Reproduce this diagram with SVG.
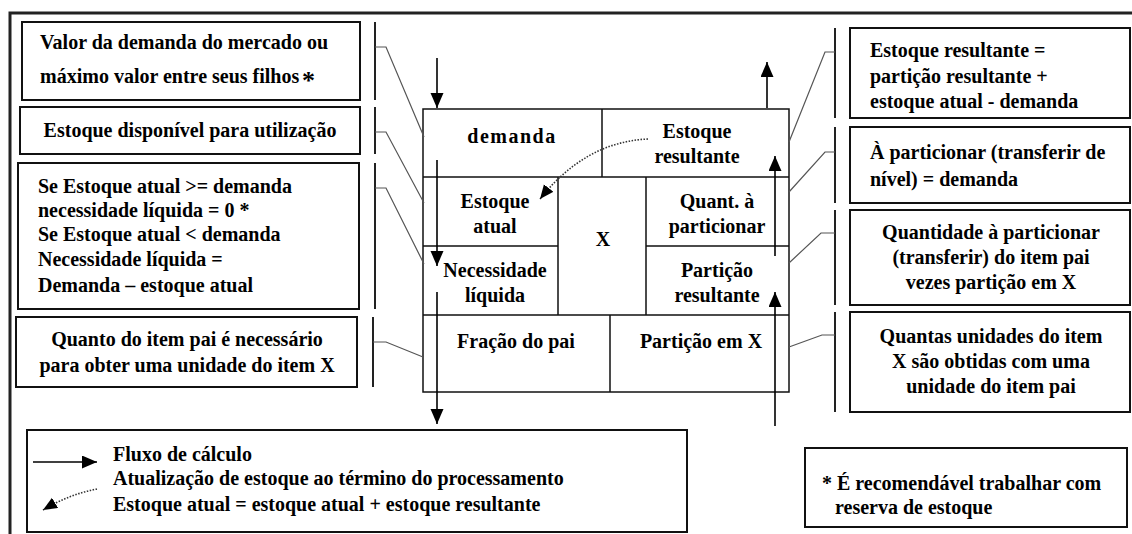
<svg xmlns="http://www.w3.org/2000/svg" width="1132" height="534" viewBox="0 0 1132 534">
<style>
.t{font-family:"Liberation Serif","Times New Roman",serif;font-weight:bold;font-size:20px;fill:#000}
.c{text-anchor:middle}
.box{fill:#fff;stroke:#111;stroke-width:2}
.cell{fill:none;stroke:#111;stroke-width:1.5}
.br{fill:none;stroke:#222;stroke-width:2}
.lead{fill:none;stroke:#555;stroke-width:1.2}
.flow{fill:none;stroke:#000;stroke-width:1.6}
.dot{fill:none;stroke:#333;stroke-width:1.6;stroke-dasharray:1.5,1.5}
</style>
<defs>
<marker id="ah" markerUnits="userSpaceOnUse" markerWidth="16" markerHeight="14" refX="15" refY="6.5" orient="auto">
<path d="M0,0 L15,6.5 L0,13 z" fill="#000"/>
</marker>
<marker id="ahd" markerUnits="userSpaceOnUse" markerWidth="16" markerHeight="14" refX="14" refY="6" orient="auto">
<path d="M0,0 L14,6 L0,12 z" fill="#000"/>
</marker>
</defs>
<rect width="1132" height="534" fill="#fff"/>
<g id="frame">
<path d="M10,534 L10,13 L1132,13" fill="none" stroke="#222" stroke-width="3"/>
</g>

<g id="left-demanda">
<rect class="box" x="22" y="22" width="338" height="78"/>
<text class="t" x="40" y="49">Valor da demanda do mercado ou</text>
<text class="t" x="40" y="83">máximo valor entre seus filhos</text>
<text class="t" x="302" y="89" style="font-size:26px">*</text>
</g>
<g id="left-estoque">
<rect class="box" x="20" y="107" width="340" height="47"/>
<text class="t c" x="190" y="137">Estoque disponível para utilização</text>
</g>
<g id="left-necessidade">
<rect class="box" x="18" y="163" width="341" height="146"/>
<text class="t" x="38" y="193">Se Estoque atual &gt;= demanda</text>
<text class="t" x="38" y="217">necessidade líquida = 0 *</text>
<text class="t" x="38" y="241">Se Estoque atual &lt; demanda</text>
<text class="t" x="38" y="266">Necessidade líquida =</text>
<text class="t" x="38" y="292">Demanda – estoque atual</text>
</g>
<g id="left-fracao">
<rect class="box" x="16" y="317" width="341" height="70"/>
<text class="t c" x="187" y="346">Quanto do item pai é necessário</text>
<text class="t c" x="187" y="372">para obter uma unidade do item X</text>
</g>

<g id="right-estoque-resultante">
<rect class="box" x="850" y="28" width="280" height="90"/>
<text class="t" x="870" y="57">Estoque resultante =</text>
<text class="t" x="870" y="83">partição resultante +</text>
<text class="t" x="870" y="108">estoque atual - demanda</text>
</g>
<g id="right-particionar">
<rect class="box" x="850" y="127" width="280" height="76"/>
<text class="t" x="870" y="159">À particionar (transferir de</text>
<text class="t" x="870" y="186">nível) = demanda</text>
</g>
<g id="right-particao-resultante">
<rect class="box" x="850" y="210" width="280" height="95"/>
<text class="t c" x="991" y="239">Quantidade à particionar</text>
<text class="t c" x="991" y="264">(transferir) do item pai</text>
<text class="t c" x="991" y="289">vezes partição em X</text>
</g>
<g id="right-particao-x">
<rect class="box" x="850" y="312" width="280" height="100"/>
<text class="t c" x="991" y="343">Quantas unidades do item</text>
<text class="t c" x="991" y="368">X são obtidas com uma</text>
<text class="t c" x="991" y="393">unidade do item pai</text>
</g>

<g id="item-x">
<rect class="cell" x="423" y="109" width="366" height="283"/>
<path class="cell" d="M423,177 H789 M423,246 H558 M646,246 H789 M423,315 H789 M602,109 V177 M558,177 V315 M646,177 V315 M610,315 V392"/>
<text class="t c" x="512" y="143" style="letter-spacing:1.5px">demanda</text>
<text class="t c" x="697" y="138">Estoque</text>
<text class="t c" x="697" y="163">resultante</text>
<text class="t c" x="495" y="208">Estoque</text>
<text class="t c" x="495" y="233">atual</text>
<text class="t c" x="603" y="246">X</text>
<text class="t c" x="717" y="208">Quant. à</text>
<text class="t c" x="717" y="233">particionar</text>
<text class="t c" x="495" y="277">Necessidade</text>
<text class="t c" x="495" y="302">líquida</text>
<text class="t c" x="717" y="277">Partição</text>
<text class="t c" x="717" y="302">resultante</text>
<text class="t c" x="516" y="348">Fração do pai</text>
<text class="t c" x="701" y="348">Partição em X</text>
</g>

<g id="connectors">
<path class="br" d="M375,22 V100 M375,107 V154 M375,163 V309 M373,317 V387"/>
<path class="br" d="M835,28 V118 M835,127 V203 M835,210 V305 M835,312 V412"/>
<path class="lead" d="M375,47 H386 L424,137 M375,132 H386 L424,203 M375,188 H386 L424,264 M373,342 H386 L423,357"/>
<path class="lead" d="M835,52 H825 L789,142 M835,152 H825 L789,192 M835,233 H821 L789,263 M835,335 H822 L789,347"/>
<path class="flow" d="M437,58 V108" marker-end="url(#ah)"/>
<path class="flow" d="M437,160 V266" marker-end="url(#ah)"/>
<path class="flow" d="M437,292 V424" marker-end="url(#ah)"/>
<path class="flow" d="M767,108 V62" marker-end="url(#ah)"/>
<path class="flow" d="M775,256 V156" marker-end="url(#ah)"/>
<path class="flow" d="M775,426 V292" marker-end="url(#ah)"/>
<path class="dot" d="M648,139 Q585,142 540,199" marker-end="url(#ahd)"/>
</g>

<g id="legend">
<rect class="box" x="27" y="430" width="660" height="102"/>
<path class="flow" d="M33,462 H97" marker-end="url(#ah)"/>
<path class="dot" d="M97,489 Q70,494 43,510" marker-end="url(#ahd)"/>
<text class="t" x="113" y="461">Fluxo de cálculo</text>
<text class="t" x="113" y="485">Atualização de estoque ao término do processamento</text>
<text class="t" x="113" y="511">Estoque atual = estoque atual + estoque resultante</text>
</g>
<g id="nota">
<rect class="box" x="805" y="448" width="322" height="79"/>
<text class="t" x="822" y="490">* É recomendável trabalhar com</text>
<text class="t" x="835" y="514">reserva de estoque</text>
</g>
</svg>
